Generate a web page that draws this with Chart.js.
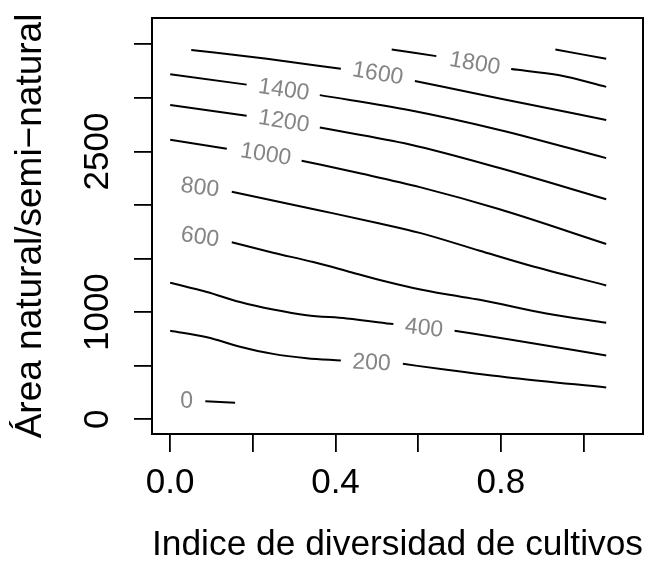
<!DOCTYPE html>
<html>
<head>
<meta charset="utf-8">
<script src="https://cdn.jsdelivr.net/npm/chart.js@4.4.0/dist/chart.umd.min.js"></script>
<style>
  html, body { margin: 0; padding: 0; background: #fff; }
  #wrap { width: 659px; height: 567px; }
</style>
</head>
<body>
<div id="wrap"><canvas id="contourChart"></canvas></div>
<script>
// contour levels (x = crop diversity index, y = natural area)
const levels = [0, 200, 400, 600, 800, 1000, 1200, 1400, 1600, 1800, 2000];

// null marks the break where the level label sits
const line0X = [0.085, 0.157];
const line0Y = [168, 153];
const line200X = [0.0, 0.089, 0.169, 0.249, 0.330, 0.413, null, 0.563, 0.669, 0.829, 1.055];
const line200Y = [826, 765, 677, 610, 570, 548, null, 517, 461, 385, 297];
const line400X = [0.0, 0.089, 0.169, 0.249, 0.330, 0.427, 0.540, null, 0.688, 0.829, 1.055];
const line400Y = [1274, 1187, 1094, 1024, 971, 941, 888, null, 826, 740, 594];
const line600X = [0.149, 0.249, 0.346, 0.427, 0.507, 0.588, 0.668, 0.749, 0.910, 1.055];
const line600Y = [1652, 1555, 1467, 1384, 1300, 1226, 1166, 1115, 987, 900];
const line800X = [0.149, 0.362, 0.507, 0.604, 0.749, 0.870, 1.055];
const line800Y = [2123, 1949, 1828, 1740, 1573, 1435, 1249];
const line1000X = [0.0, 0.137, null, 0.318, 0.459, 0.604, 0.797, 1.055];
const line1000Y = [2609, 2525, null, 2414, 2296, 2167, 1960, 1636];
const line1200X = [0.0, 0.185, null, 0.362, 0.580, 0.797, 1.055];
const line1200Y = [2933, 2834, null, 2723, 2565, 2345, 2053];
const line1400X = [0.0, 0.185, null, 0.362, 0.580, 0.797, 1.055];
const line1400Y = [3220, 3124, null, 3026, 2885, 2701, 2438];
const line1600X = [0.051, 0.234, 0.413, null, 0.592, 0.797, 1.055];
const line1600Y = [3448, 3365, 3272, null, 3158, 2994, 2794];
const line1800X = [0.536, 0.644, null, 0.825, 0.942, 1.055];
const line1800Y = [3452, 3390, null, 3269, 3211, 3103];
const line2000X = [0.932, 1.055];
const line2000Y = [3452, 3365];

// where each level's label is written (2000 has none)
const labelX = [0.040, 0.487, 0.614, 0.072, 0.072, 0.231, 0.275, 0.275, 0.502, 0.737, null];
const labelY = [168, 524, 848, 1697, 2160, 2470, 2778, 3072, 3223, 3318, null];

const xTicks = [0, 0.2, 0.4, 0.6, 0.8, 1.0];
const xTickLabels = ['0.0', '', '0.4', '', '0.8', ''];
const yTicks = [0, 500, 1000, 1500, 2000, 2500, 3000, 3500];
const yTickLabels = ['0', '', '1000', '', '', '2500', '', ''];

const linesX = [line0X, line200X, line400X, line600X, line800X, line1000X, line1200X, line1400X, line1600X, line1800X, line2000X];
const linesY = [line0Y, line200Y, line400Y, line600Y, line800Y, line1000Y, line1200Y, line1400Y, line1600Y, line1800Y, line2000Y];

const datasets = levels.map((lev, i) => ({
    label: String(lev),
    data: linesX[i].map((x, j) => ({ x: x, y: linesY[i][j] })),
    showLine: true,
    borderColor: '#000',
    borderWidth: 2,
    pointRadius: 0,
    cubicInterpolationMode: 'monotone',
    spanGaps: false
}));

// plot frame like R's box()
const boxPlugin = {
    id: 'box',
    afterDraw(chart) {
        const { ctx, chartArea: a } = chart;
        ctx.save();
        ctx.strokeStyle = '#000';
        ctx.lineWidth = 2;
        ctx.strokeRect(a.left, a.top, a.right - a.left, a.bottom - a.top);
        ctx.restore();
    }
};

// level labels, rotated along the line
const contourLabels = {
    id: 'contourLabels',
    afterDatasetsDraw(chart) {
        const { ctx, scales: { x, y } } = chart;
        ctx.save();
        ctx.font = '23px "Liberation Sans", Arial, sans-serif';
        ctx.fillStyle = '#858585';
        ctx.textAlign = 'center';
        ctx.textBaseline = 'middle';
        levels.forEach((lev, i) => {
            if (labelX[i] === null) return;
            const px = x.getPixelForValue(labelX[i]);
            const py = y.getPixelForValue(labelY[i]);
            const xs = linesX[i], ys = linesY[i];
            let left = null, right = null;
            xs.forEach((v, j) => {
                if (v === null) return;
                if (v < labelX[i]) left = j;
                else if (right === null && v > labelX[i]) right = j;
            });
            const lx = left === null ? px : x.getPixelForValue(xs[left]);
            const ly = left === null ? py : y.getPixelForValue(ys[left]);
            const rx = right === null ? px : x.getPixelForValue(xs[right]);
            const ry = right === null ? py : y.getPixelForValue(ys[right]);
            const ang = Math.atan2(ry - ly, rx - lx);
            ctx.save();
            ctx.translate(px, py);
            ctx.rotate(ang);
            ctx.fillText(String(lev), 0, 0);
            ctx.restore();
        });
        ctx.restore();
    }
};

const axisFont = { family: '"Liberation Sans", Arial, sans-serif', size: 35 };

new Chart(document.getElementById('contourChart'), {
    type: 'scatter',
    data: { datasets: datasets },
    options: {
        responsive: true,
        maintainAspectRatio: false,
        animation: false,
        layout: { padding: { top: 15, right: 16, bottom: 0, left: 0 } },
        plugins: { legend: { display: false }, tooltip: { enabled: false } },
        scales: {
            x: {
                type: 'linear',
                min: -0.044,
                max: 1.144,
                afterBuildTicks: s => { s.ticks = xTicks.map(v => ({ value: v })); },
                afterFit: s => { s.height = 133; },
                ticks: {
                    autoSkip: false,
                    maxRotation: 0,
                    padding: 10,
                    color: '#000',
                    font: axisFont,
                    callback: (v, i) => xTickLabels[i]
                },
                grid: { drawOnChartArea: false, drawTicks: true, tickLength: 18, color: '#000', lineWidth: 1.8 },
                border: { display: true, color: '#000', width: 2 },
                title: {
                    display: true,
                    text: 'Indice de diversidad de cultivos',
                    color: '#000',
                    font: { family: axisFont.family, size: 35.5 },
                    padding: { top: 0, bottom: 0 }
                }
            },
            y: {
                type: 'linear',
                min: -138,
                max: 3746,
                afterBuildTicks: s => { s.ticks = yTicks.map(v => ({ value: v })); },
                afterFit: s => { s.width = 152; },
                ticks: {
                    autoSkip: false,
                    minRotation: 90,
                    maxRotation: 90,
                    crossAlign: 'center',
                    padding: -3,
                    color: '#000',
                    font: axisFont,
                    callback: (v, i) => yTickLabels[i]
                },
                grid: { drawOnChartArea: false, drawTicks: true, tickLength: 18, color: '#000', lineWidth: 1.8 },
                border: { display: true, color: '#000', width: 2 },
                title: {
                    display: true,
                    text: '\u00c1rea natural/semi\u2212natural',
                    color: '#000',
                    font: { family: axisFont.family, size: 37 },
                    padding: { top: 9, bottom: 0 }
                }
            }
        }
    },
    plugins: [boxPlugin, contourLabels]
});
</script>
</body>
</html>
